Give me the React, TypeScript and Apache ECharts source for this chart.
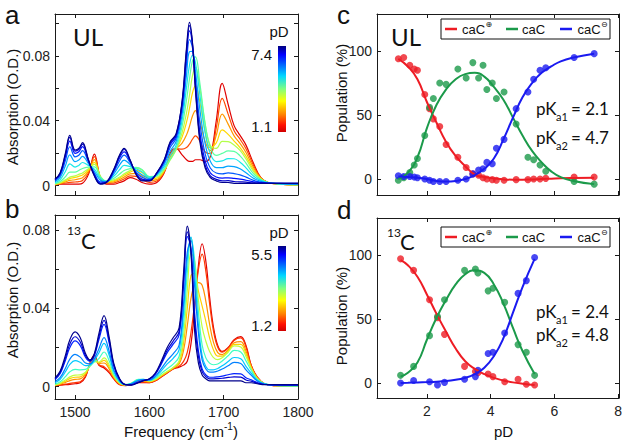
import React, { useEffect, useRef } from 'react';
import * as echarts from 'echarts';

// ---------- Panel a: UL spectra (frequency grid, cm-1) ----------
const freqUL = [1473,1480,1487,1493,1500,1505,1510,1518,1526,1534,1542,1552,1560,1566,1574,1582,1590,1600,1610,1620,1628,1636,1644,1650,1654,1658,1662,1668,1675,1682,1690,1698,1706,1714,1722,1730,1740,1750,1760,1775,1800];
const ulPD74 = [.004,.008,.020,.031,.022,.023,.0265,.016,.006,.001,.002,.010,.019,.023,.016,.007,.003,.003,.008,.016,.027,.032,.052,.085,.1005,.088,.059,.027,.011,.005,.003,.002,.002,.0015,.0015,.0015,.0015,.0015,.0015,.0015,.0015];
const ulPD66 = [.0039,.0077,.0192,.0298,.0213,.0223,.0256,.0158,.0063,.0013,.0021,.0097,.0184,.0223,.0157,.0073,.0034,.0032,.0079,.0157,.0264,.0315,.0512,.0833,.0986,.0875,.0602,.0291,.0126,.0061,.0039,.003,.0031,.0026,.0024,.0022,.0018,.0016,.0015,.0015,.0015];
const ulPD60 = [.0036,.0072,.0178,.0275,.0199,.0209,.0241,.0153,.0068,.0017,.0021,.0092,.0172,.0209,.0152,.0077,.0041,.0034,.0077,.0152,.0253,.0306,.0496,.0801,.0953,.0865,.0624,.0327,.0153,.0079,.0054,.0047,.0049,.0045,.0041,.0034,.0024,.0019,.0016,.0014,.0014];
const ulPD54 = [.0032,.0063,.0155,.024,.0178,.0188,.0216,.0146,.0077,.0024,.0023,.0083,.0154,.0188,.0143,.0084,.0052,.0038,.0074,.0143,.0236,.0292,.0472,.0752,.09,.0849,.0657,.0385,.0197,.0109,.0078,.0073,.0079,.0075,.0067,.0053,.0033,.0022,.0016,.0014,.0012];
const ulPD49 = [.0026,.0051,.0123,.019,.0148,.0158,.0181,.0136,.0089,.0034,.0025,.0071,.0128,.0158,.0131,.0094,.0068,.0044,.007,.0131,.0212,.0272,.0438,.0682,.0825,.0827,.0705,.0467,.0259,.0151,.0112,.0111,.0121,.0118,.0104,.008,.0046,.0027,.0017,.0013,.001];
const ulPD44 = [.0019,.0038,.0088,.0135,.0115,.0125,.0143,.0125,.0102,.0045,.0027,.0058,.0099,.0125,.0118,.0105,.0086,.0051,.0066,.0118,.0186,.025,.0401,.0605,.0743,.0803,.0758,.0557,.0327,.0197,.0149,.0153,.0167,.0166,.0145,.011,.006,.0033,.0019,.0012,.0008];
const ulPD38 = [.0013,.0026,.0055,.0084,.0084,.0094,.0106,.0114,.0116,.0055,.0029,.0045,.0072,.0094,.0105,.0113,.01,.0056,.0061,.0106,.0163,.023,.0364,.0528,.0658,.0769,.0793,.0629,.0384,.0237,.0187,.0199,.0214,.0211,.0184,.0139,.0075,.0038,.002,.0011,.0006];
const ulPD31 = [.0009,.0019,.0036,.0053,.0061,.007,.0079,.0104,.0131,.0059,.0027,.0036,.0054,.0073,.0093,.0108,.0097,.0053,.0054,.0097,.0158,.0222,.0326,.0449,.0558,.0677,.073,.0602,.038,.0248,.023,.0273,.0271,.0251,.0217,.0165,.0089,.0042,.002,.001,.0005];
const ulPD26 = [.0008,.0017,.003,.0044,.0051,.0058,.0066,.0097,.0144,.0057,.0024,.003,.0047,.0064,.0084,.0094,.0081,.0044,.0047,.0094,.0166,.0223,.0299,.0391,.0476,.0572,.0616,.0514,.0334,.0234,.0264,.0344,.0316,.0275,.0235,.0182,.0099,.0043,.002,.001,.0005];
const ulPD21 = [.0007,.0015,.0024,.0033,.0037,.0042,.0049,.0088,.0161,.0055,.0019,.0024,.0038,.0053,.0073,.0076,.006,.0033,.0038,.0089,.0178,.0226,.0262,.0313,.0366,.0429,.0462,.0394,.0272,.0216,.031,.0441,.0379,.0307,.0261,.0205,.0113,.0046,.002,.001,.0005];
const ulPD16 = [.0006,.0012,.0017,.0021,.0023,.0025,.0032,.0079,.0179,.0052,.0014,.0017,.0029,.0041,.0061,.0058,.004,.0021,.0029,.0084,.0189,.0228,.0225,.0235,.0256,.0286,.0307,.0274,.0209,.0198,.0356,.0538,.0441,.0339,.0286,.0228,.0127,.0048,.002,.001,.0005];
const ulPD11 = [.0005,.001,.001,.001,.001,.001,.0015,.007,.0195,.005,.001,.001,.002,.003,.005,.004,.002,.001,.002,.008,.020,.023,.019,.016,.015,.015,.016,.016,.015,.018,.040,.063,.050,.037,.031,.025,.014,.005,.002,.001,.0005];

// ---------- Panel b: 13C spectra ----------
const freq13C = [1473,1480,1487,1493,1500,1507,1514,1520,1526,1532,1539,1546,1552,1560,1568,1576,1585,1592,1600,1608,1616,1624,1632,1640,1646,1651,1656,1661,1666,1671,1676,1681,1686,1692,1698,1706,1714,1723,1730,1737,1745,1755,1770,1800];
const c13PD55 = [.0045,.008,.016,.024,.028,.025,.017,.0137,.017,.027,.0363,.025,.012,.004,.001,.0008,.002,.003,.004,.007,.013,.020,.025,.030,.058,.082,.068,.028,.012,.006,.004,.003,.003,.003,.003,.003,.003,.003,.002,.002,.0015,.001,.001,.001];
const c13PD51 = [.0041,.0073,.0146,.0218,.0255,.0228,.0159,.0133,.0164,.0253,.0339,.0234,.0113,.0038,.001,.0009,.0022,.0031,.0039,.0066,.0122,.0186,.0232,.0281,.0546,.0791,.0694,.033,.0154,.0077,.0051,.004,.004,.0041,.0043,.0047,.005,.0049,.0034,.0028,.0018,.0011,.0009,.0009];
const c13PD48 = [.0037,.0067,.0134,.02,.0234,.021,.015,.0129,.0159,.0239,.0318,.0221,.0107,.0036,.001,.0011,.0024,.0032,.0038,.0063,.0115,.0174,.0217,.0265,.0518,.0767,.0706,.0372,.0182,.0091,.006,.0048,.0048,.005,.0054,.0061,.0067,.0065,.0046,.0035,.0021,.0011,.0009,.0008];
const c13PD44 = [.0026,.0047,.0094,.0141,.0165,.0151,.0121,.0117,.0143,.0193,.0251,.0179,.0087,.0029,.001,.0015,.0031,.0036,.0035,.0054,.0092,.0134,.0168,.0212,.0426,.0688,.0746,.0511,.0274,.0137,.009,.0074,.0074,.008,.009,.0107,.0124,.0118,.0086,.0059,.0029,.0013,.0007,.0006];
const c13PD40 = [.002,.0038,.0076,.0114,.0133,.0124,.0107,.0111,.0135,.0172,.0221,.0159,.0078,.0026,.001,.0016,.0034,.0037,.0033,.0049,.0081,.0116,.0145,.0188,.0384,.0652,.0764,.0574,.0316,.0158,.0103,.0086,.0086,.0093,.0107,.0128,.0149,.0142,.0104,.0069,.0033,.0014,.0007,.0005];
const c13PD35 = [.0013,.0025,.0051,.0076,.0088,.0086,.0088,.0105,.0127,.0143,.0177,.0131,.0065,.0022,.001,.0018,.0037,.0038,.0031,.0043,.0067,.0092,.0115,.0154,.0319,.0582,.0759,.0643,.0383,.0213,.0147,.012,.0112,.0116,.0131,.0158,.0185,.0177,.0132,.0084,.0038,.0015,.0006,.0004];
const c13PD30 = [.0009,.0018,.0034,.005,.0059,.006,.0074,.0104,.0128,.0126,.0147,.011,.0056,.0018,.0009,.0018,.0036,.0036,.0028,.0038,.0058,.0078,.0098,.0132,.0262,.049,.0684,.064,.0444,.0306,.0232,.018,.015,.0138,.0148,.0176,.0208,.0203,.0154,.0094,.0042,.0015,.0005,.0003];
const c13PD26 = [.0008,.0015,.0028,.0041,.0048,.005,.0068,.0108,.0137,.0122,.0134,.01,.0052,.0016,.0008,.0016,.0032,.0032,.0026,.0036,.0056,.0076,.0096,.0124,.0224,.04,.0568,.058,.0488,.0412,.0334,.025,.019,.0156,.0156,.0182,.0216,.0216,.0168,.0098,.0044,.0015,.0005,.0003];
const c13PD22 = [.0007,.0013,.0022,.0031,.0037,.004,.0062,.0112,.0145,.0118,.0121,.009,.0048,.0014,.0007,.0014,.0028,.0028,.0024,.0034,.0054,.0074,.0094,.0116,.0186,.031,.0452,.052,.0532,.0518,.0436,.032,.023,.0174,.0164,.0188,.0224,.023,.0182,.0102,.0046,.0015,.0005,.0002];
const c13PD16 = [.0006,.0009,.0013,.0017,.0021,.0025,.0053,.0118,.0158,.0112,.0102,.0075,.0042,.0011,.0006,.0011,.0022,.0022,.0021,.0031,.0051,.0071,.0091,.0104,.0129,.0175,.0278,.043,.0598,.0677,.0589,.0425,.029,.0201,.0176,.0197,.0236,.0249,.0203,.0108,.0049,.0015,.0005,.0002];
const c13PD12 = [.0005,.0008,.001,.0012,.0015,.002,.005,.012,.0162,.011,.0095,.007,.004,.001,.0005,.001,.002,.002,.002,.003,.005,.007,.009,.010,.011,.013,.022,.040,.062,.073,.064,.046,.031,.021,.018,.020,.024,.0256,.021,.011,.005,.0015,.0005,.0002];

// ---------- Panel c: UL populations ----------
const pdUL = [1.1, 1.27, 1.46, 1.6, 1.7, 1.93, 2.08, 2.2, 2.4, 2.6, 2.97, 3.23, 3.44, 3.62, 3.76, 3.88, 4.05, 4.18, 4.42, 4.8, 5.17, 5.35, 5.55, 5.73, 6.62, 7.25];
const cationUL = [94, 95, 89, 86, 85, 66, 55, 47, 41, 27, 17, 9, 4, 3, 1, 0, -0.5, -1, -1, -0.5, -0.5, 0, 0, 0.5, 1.5, 1.5];
const neutralUL = [-1, 1, 5, 11, 16, 34, 56, 63, 75, 74, 86, 79, 91, 79, 89, 70, 75, 63, 68, 43, 17, 15, 11, 6, -2, -4];
const anionUL = [2.5, 2, 2, 1.5, 1, 0, -1, -2, -2, -2, -1, 0, 4, 7, 8, 13, 12, 24, 31, 55, 68, 78, 85, 87, 95, 98];
const fitPdUL = [1.1, 1.4, 1.7, 2.0, 2.3, 2.6, 2.9, 3.2, 3.5, 3.8, 4.1, 4.4, 4.7, 5.0, 5.3, 5.6, 5.9, 6.2, 6.6, 7.25];
const fitCatUL = [94, 88, 78, 60, 44, 29, 18, 10, 3.5, 1.5, 0.5, -0.3, -0.5, -0.5, -0.3, 0, 0.3, 0.6, 0.8, 1];
const fitNeuUL = [0, 5, 17, 40, 58, 70, 78, 82, 83, 80, 72, 62, 48, 34, 22, 13, 6, 1.5, -1.5, -4];
const fitAniUL = [2, 1.5, 1, 0, -1.5, -2, -1.5, 0, 3, 8, 16, 31, 48, 64, 75, 83, 88, 92, 95, 98];

// ---------- Panel d: 13C populations ----------
const pd13C = [1.17, 1.58, 2.08, 2.33, 2.55, 3.18, 3.52, 3.6, 3.92, 4.07, 4.44, 4.86, 5.12, 5.38];
const cation13C = [97, 88, 65, 51, 38, 13, 9, 8, 7, 5, 1, 3, -1, -1.5];
const neutral13C = [6, 13, 37, 52, 65, 88, 89, 86, 72, 74, 63, 30, 24, 6];
const anion13C = [0, 2, 1, -1.5, 0.5, 3, 5, 10, 23, 24, 39, 70, 80, 98];
const fitPd13C = [1.17, 1.4, 1.7, 2.0, 2.3, 2.6, 2.9, 3.2, 3.5, 3.8, 4.1, 4.4, 4.7, 5.0, 5.38];
const fitCat13C = [96, 92, 83, 69, 54, 40, 27, 17, 11, 7, 4, 2, 0.5, -0.5, -1.5];
const fitNeu13C = [5, 8, 16, 34, 51, 65, 77, 85, 88, 86, 77, 62, 43, 25, 7];
const fitAni13C = [0, 0.2, 0.5, 0.7, 1, 1.5, 2.5, 4, 7, 12, 21, 35, 55, 75, 97];

// ---------- tick values ----------
const freqTicks = [1500, 1600, 1700, 1800];
const absTicks = [0, 0.02, 0.04, 0.06, 0.08, 0.1];
const absLabels = [0, 0.04, 0.08];
const pdTicks = [2, 4, 6, 8];
const popTicks = [0, 50, 100];

const LIB = '"Liberation Sans", Arial, Helvetica, sans-serif';
const LATO = 'Lato, "Open Sans", sans-serif';
const AXC = '#1a1a1a';
const RED = '#ee1c24';
const GREEN = '#1b9a4a';
const BLUE = '#1a1af0';

const plain = (v: number) => String(v);

function xAx(gridIndex: number, min: number, max: number, ticks: number[], position: string, labels: number[] | null) {
  return {
    type: 'value', gridIndex, min, max, position,
    axisLine: { show: true, onZero: false, lineStyle: { color: AXC, width: 1 } },
    axisTick: { show: true, inside: true, length: 4, customValues: ticks, lineStyle: { color: AXC, width: 1 } },
    axisLabel: labels ? { show: true, customValues: labels, formatter: plain, margin: 6, color: '#222', fontSize: 14, fontFamily: LIB } : { show: false },
    splitLine: { show: false },
  };
}
function yAx(gridIndex: number, min: number, max: number, ticks: number[], position: string, labels: number[] | null) {
  return {
    type: 'value', gridIndex, min, max, position,
    axisLine: { show: true, onZero: false, lineStyle: { color: AXC, width: 1 } },
    axisTick: { show: true, inside: true, length: 4, customValues: ticks, lineStyle: { color: AXC, width: 1 } },
    axisLabel: labels ? { show: true, customValues: labels, formatter: plain, margin: 5, color: '#222', fontSize: 14, fontFamily: LIB } : { show: false },
    splitLine: { show: false },
  };
}

function txt(text: string, x: number, y: number, size: number, family: string, align = 'left', extra: any = {}, lh?: number) {
  const style: any = { text, fill: '#111', fontSize: size, fontFamily: family, textAlign: align, align, textVerticalAlign: 'middle', verticalAlign: 'middle' };
  if (lh) style.lineHeight = lh;
  return { type: 'text', x, y, silent: true, ...extra, style };
}

function legend(y: number) {
  const cy = y + 10;
  const items: any[] = [
    { type: 'rect', shape: { x: 441, y, width: 169, height: 20 }, style: { fill: '#fff', stroke: '#111', lineWidth: 1 } },
    { type: 'line', shape: { x1: 445, y1: cy, x2: 457, y2: cy }, style: { stroke: RED, lineWidth: 2.5 } },
    txt('caC', 462, cy, 13, LIB, 'left', {}, 13),
    txt('\u2295', 485.5, cy - 5, 8, '"DejaVu Sans", sans-serif', 'left', {}, 8),
    { type: 'line', shape: { x1: 506, y1: cy, x2: 518, y2: cy }, style: { stroke: GREEN, lineWidth: 2.5 } },
    txt('caC', 522, cy, 13, LIB, 'left', {}, 13),
    { type: 'line', shape: { x1: 560, y1: cy, x2: 572, y2: cy }, style: { stroke: BLUE, lineWidth: 2.5 } },
    txt('caC', 577.5, cy, 13, LIB, 'left', {}, 13),
    txt('\u2296', 601, cy - 5, 8, '"DejaVu Sans", sans-serif', 'left', {}, 8),
  ];
  return items;
}

function pka(y1: number, y2: number, v1: string, v2: string) {
  return [
    txt('pK', 536, y1, 17, LATO), txt('a1', 556, y1 + 8, 11, LATO, 'left', {}, 9), txt('= ' + v1, 571, y1, 17, LATO),
    txt('pK', 536, y2, 17, LATO), txt('a2', 556, y2 + 8, 11, LATO, 'left', {}, 9), txt('= ' + v2, 571, y2, 17, LATO),
  ];
}

function colorbar(x: number, y: number, h: number, top: string, bottom: string, pdY: number) {
  return [
    {
      type: 'rect', shape: { x, y, width: 8, height: h }, silent: true,
      style: {
        fill: new echarts.graphic.LinearGradient(0, 0, 0, 1, [
          { offset: 0, color: '#00007f' }, { offset: 0.1, color: '#0000ff' }, { offset: 0.35, color: '#00d8ff' },
          { offset: 0.5, color: '#80ff80' }, { offset: 0.64, color: '#ffff00' }, { offset: 0.8, color: '#ff8000' },
          { offset: 0.92, color: '#ff1000' }, { offset: 1, color: '#d00000' },
        ]),
      },
    },
    txt('pD', x + 1, pdY, 15, LIB, 'center'),
    txt(top, x - 6, y + 8, 15, LIB, 'right'),
    txt(bottom, x - 6, y + h - 6, 15, LIB, 'right'),
  ];
}

const ulSet = [
  { d: ulPD11, c: '#e00000' }, { d: ulPD16, c: '#ff4800' }, { d: ulPD21, c: '#ff9800' }, { d: ulPD26, c: '#ffd800' },
  { d: ulPD31, c: '#b4ff4a' }, { d: ulPD38, c: '#5cffa2' }, { d: ulPD44, c: '#18e8e8' }, { d: ulPD49, c: '#00a4ff' },
  { d: ulPD54, c: '#0058ff' }, { d: ulPD60, c: '#0010ff' }, { d: ulPD66, c: '#0000cc' }, { d: ulPD74, c: '#00008c' },
];
const c13Set = [
  { d: c13PD12, c: '#e00000' }, { d: c13PD16, c: '#ff3800' }, { d: c13PD22, c: '#ff9000' }, { d: c13PD26, c: '#ffd000' },
  { d: c13PD30, c: '#c0ff40' }, { d: c13PD35, c: '#40ffc0' }, { d: c13PD40, c: '#00c8ff' }, { d: c13PD44, c: '#0080ff' },
  { d: c13PD48, c: '#0020ff' }, { d: c13PD51, c: '#0000d0' }, { d: c13PD55, c: '#00008c' },
];

function specSeries(set: any[], freq: number[], axis: number) {
  return set.map((s) => ({
    type: 'line', xAxisIndex: axis, yAxisIndex: axis, showSymbol: false, smooth: 0.4, silent: true,
    data: freq.map((f, i) => [f, s.d[i]]),
    lineStyle: { color: s.c, width: 1.2 },
  }));
}
function popSeries(axis: number, pts: number[], cat: number[], neu: number[], ani: number[], fx: number[], fc: number[], fn: number[], fa: number[]) {
  const out: any[] = [];
  [[fc, RED], [fn, GREEN], [fa, BLUE]].forEach(([arr, col]: any) => {
    out.push({ type: 'line', xAxisIndex: axis, yAxisIndex: axis, showSymbol: false, smooth: 0.5, silent: true,
      data: fx.map((x, i) => [x, arr[i]]), lineStyle: { color: col, width: 2 } });
  });
  [[cat, RED], [neu, GREEN], [ani, BLUE]].forEach(([arr, col]: any) => {
    out.push({ type: 'scatter', xAxisIndex: axis, yAxisIndex: axis, symbol: 'circle', symbolSize: 7, silent: true,
      data: pts.map((x, i) => [x, arr[i]]), itemStyle: { color: col } });
  });
  return out;
}

export default function App() {
  const ref = useRef<HTMLDivElement>(null);
  useEffect(() => {
    const chart = echarts.init(ref.current!, null, { renderer: 'svg' });
    const option: any = {
      animation: false,
      backgroundColor: '#fff',
      grid: [
        { left: 55, top: 14, width: 243, height: 181 },
        { left: 55, top: 215, width: 243, height: 184 },
        { left: 377, top: 14, width: 242, height: 181 },
        { left: 377, top: 218, width: 242, height: 180 },
      ],
      xAxis: [
        xAx(0, 1473, 1800, freqTicks, 'bottom', null),
        xAx(1, 1473, 1800, freqTicks, 'bottom', freqTicks),
        xAx(2, 0.43, 8.03, pdTicks, 'bottom', null),
        xAx(3, 0.43, 8.03, pdTicks, 'bottom', pdTicks),
        xAx(0, 1473, 1800, freqTicks, 'top', null),
        xAx(1, 1473, 1800, freqTicks, 'top', null),
        xAx(2, 0.43, 8.03, pdTicks, 'top', null),
        xAx(3, 0.43, 8.03, pdTicks, 'top', null),
      ],
      yAxis: [
        yAx(0, -0.0057, 0.1057, absTicks, 'left', absLabels),
        yAx(1, -0.0063, 0.0877, absTicks, 'left', absLabels),
        yAx(2, -12.5, 129, popTicks, 'left', popTicks),
        yAx(3, -11.7, 128.9, popTicks, 'left', popTicks),
        yAx(0, -0.0057, 0.1057, absTicks, 'right', null),
        yAx(1, -0.0063, 0.0877, absTicks, 'right', null),
        yAx(2, -12.5, 129, popTicks, 'right', null),
        yAx(3, -11.7, 128.9, popTicks, 'right', null),
      ],
      series: [
        ...specSeries(ulSet, freqUL, 0),
        ...specSeries(c13Set, freq13C, 1),
        ...popSeries(2, pdUL, cationUL, neutralUL, anionUL, fitPdUL, fitCatUL, fitNeuUL, fitAniUL),
        ...popSeries(3, pd13C, cation13C, neutral13C, anion13C, fitPd13C, fitCat13C, fitNeu13C, fitAni13C),
      ],
      graphic: [
        txt('a', 5, 14.5, 26, LIB, 'left', {}, 18), txt('b', 5, 209, 26, LIB, 'left', {}, 20),
        txt('c', 337, 14.5, 26, LIB, 'left', {}, 18), txt('d', 337, 210, 26, LIB, 'left', {}, 20),
        txt('UL', 73, 36, 24, LATO), txt('UL', 391, 36, 24, LATO),
        txt('13', 67, 230, 12, LATO, 'left', {}, 9), txt('C', 81, 240, 22, LATO, 'left', {}, 16),
        txt('13', 387, 232, 12, LATO, 'left', {}, 9), txt('C', 400, 241, 22, LATO, 'left', {}, 16),
        ...colorbar(278, 46, 86, '7.4', '1.1', 31),
        ...colorbar(278, 246, 85, '5.5', '1.2', 232),
        ...legend(19), ...legend(227),
        ...pka(108.5, 137, '2.1', '4.7'),
        ...pka(311, 334, '2.4', '4.8'),
        txt('Absorption (O.D.)', 12, 107, 15, LIB, 'center', { rotation: Math.PI / 2 }),
        txt('Absorption (O.D.)', 12, 300, 15, LIB, 'center', { rotation: Math.PI / 2 }),
        txt('Population (%)', 341, 93, 15, LIB, 'center', { rotation: Math.PI / 2 }),
        txt('Population (%)', 341, 316, 15, LIB, 'center', { rotation: Math.PI / 2 }),
        txt('Frequency (cm', 124, 431, 15, LIB),
        txt('-1', 224, 426, 10, LIB, 'left', {}, 9),
        txt(')', 233, 431, 15, LIB),
        txt('pD', 503.5, 431, 15, LIB, 'center'),
      ],
    };
    chart.setOption(option);
    return () => chart.dispose();
  }, []);
  return <div ref={ref} style={{ position: 'fixed', left: 0, top: 0, width: 626, height: 442, background: '#fff' }} />;
}
